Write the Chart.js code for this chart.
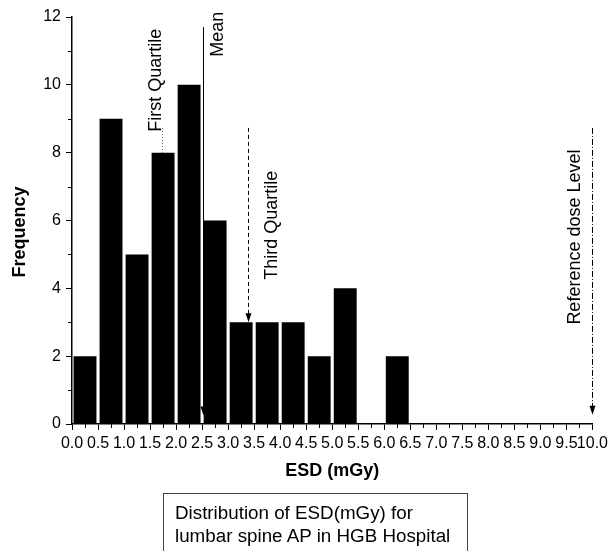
<!DOCTYPE html>
<html><head><meta charset="utf-8">
<script src="https://cdn.jsdelivr.net/npm/chart.js@4/dist/chart.umd.min.js"></script>
<style>
html,body{margin:0;padding:0;background:#fff;overflow:hidden}
#wrap{position:relative;width:612px;height:551px;overflow:hidden;background:#fff}
#c{position:absolute;left:0;top:0}
#caption{position:absolute;left:163px;top:493px;width:305px;height:80px;border:1px solid #444;box-sizing:border-box;font:18.8px "Liberation Sans",Arial,sans-serif;line-height:23px;padding:7px 0 0 11px;color:#000;white-space:nowrap}
</style></head><body>
<div id="wrap"><canvas id="c" width="612" height="551"></canvas>
<div id="caption">Distribution of ESD(mGy) for<br>lumbar spine AP in HGB Hospital</div></div>
<script>
// ---- data ----
const binCenters = [0.25, 0.75, 1.25, 1.75, 2.25, 2.75, 3.25, 3.75, 4.25, 4.75, 5.25, 5.75, 6.25];
const frequencies = [2, 9, 5, 8, 10, 6, 3, 3, 3, 2, 4, 0, 2];
const xTickLabels = ['0.0','0.5','1.0','1.5','2.0','2.5','3.0','3.5','4.0','4.5','5.0','5.5','6.0','6.5','7.0','7.5','8.0','8.5','9.0','9.5','10.0'];
const yTickLabels = ['0','2','4','6','8','10','12'];
const markerNames = ['First Quartile', 'Mean', 'Third Quartile', 'Reference dose Level'];
const markerValues = [1.73, 2.52, 3.38, 10.0];
const markerTops = [8.73, 11.7, 8.73, 8.73];
const markerEnds = [8, 0.25, 3, 0.27];
const xTitle = 'ESD (mGy)';
const yTitle = 'Frequency';

// ---- styles ----
const FONT = '"Liberation Sans", Arial, sans-serif';
const markerStyles = [
  {dash: [1, 2], color: '#555', arrow: false, labelDx: -6, labelStart: 8.62},
  {dash: [], color: '#000', arrow: true, labelDx: 15, labelStart: 10.83},
  {dash: [4, 3], color: '#000', arrow: true, labelDx: 24, labelStart: 4.25},
  {dash: [6, 2, 1, 2], color: '#000', arrow: true, labelDx: -17, labelStart: 2.93}
];

const decor = {
  id: 'decor',
  afterDraw(chart) {
    const ctx = chart.ctx, xs = chart.scales.x, ys = chart.scales.y, ca = chart.chartArea;
    ctx.save();
    // minor ticks
    ctx.strokeStyle = '#000'; ctx.lineWidth = 1;
    ctx.beginPath();
    for (let v = 0.25; v < 10; v += 0.5) {
      const px = Math.round(xs.getPixelForValue(v)) + 0.5;
      ctx.moveTo(px, ca.bottom); ctx.lineTo(px, ca.bottom + 4);
    }
    for (let v = 1; v < 12; v += 2) {
      const py = Math.round(ys.getPixelForValue(v)) + 0.5;
      ctx.moveTo(ca.left, py); ctx.lineTo(ca.left - 4, py);
    }
    ctx.stroke();
    // markers
    markerNames.forEach((name, i) => {
      const st = markerStyles[i];
      const x = Math.round(xs.getPixelForValue(markerValues[i])) + 0.5;
      const yTop = ys.getPixelForValue(markerTops[i]);
      const yEnd = ys.getPixelForValue(markerEnds[i]);
      ctx.strokeStyle = st.color; ctx.fillStyle = st.color; ctx.lineWidth = 1;
      ctx.setLineDash(st.dash);
      ctx.beginPath();
      ctx.moveTo(x, yTop); ctx.lineTo(x, st.arrow ? yEnd - 4 : yEnd);
      ctx.stroke();
      ctx.setLineDash([]);
      if (st.arrow) {
        ctx.beginPath();
        ctx.moveTo(x, yEnd); ctx.lineTo(x - 3, yEnd - 9); ctx.lineTo(x + 3, yEnd - 9);
        ctx.closePath(); ctx.fill();
      }
      ctx.fillStyle = '#000';
      ctx.font = '18px ' + FONT;
      ctx.save();
      ctx.translate(x + st.labelDx, ys.getPixelForValue(st.labelStart));
      ctx.rotate(-Math.PI / 2);
      ctx.textAlign = 'left'; ctx.textBaseline = 'middle';
      ctx.fillText(name, 0, 0);
      ctx.restore();
    });
    // axis titles
    ctx.fillStyle = '#000';
    ctx.font = 'bold 18px ' + FONT;
    ctx.textAlign = 'center'; ctx.textBaseline = 'middle';
    ctx.fillText(xTitle, (ca.left + ca.right) / 2, 471);
    ctx.save();
    ctx.translate(20, 232);
    ctx.rotate(-Math.PI / 2);
    ctx.fillText(yTitle, 0, 0);
    ctx.restore();
    ctx.restore();
  }
};

new Chart(document.getElementById('c'), {
  type: 'bar',
  data: {
    datasets: [{
      data: binCenters.map((x, i) => ({x: x, y: frequencies[i]})),
      backgroundColor: '#000',
      borderWidth: 0,
      barPercentage: 0.88,
      categoryPercentage: 1
    }]
  },
  options: {
    responsive: false,
    animation: false,
    layout: {padding: {top: 17, right: 19, bottom: 67, left: 0}},
    plugins: {legend: {display: false}, tooltip: {enabled: false}},
    scales: {
      x: {
        type: 'linear', min: 0, max: 10, offset: false,
        afterFit(s) { s.height = 60; },
        grid: {offset: false, drawOnChartArea: false, drawTicks: true, tickLength: 6, color: '#000', tickColor: '#000'},
        border: {display: true, color: '#000', width: 1.5},
        ticks: {
          stepSize: 0.5, autoSkip: false, maxRotation: 0, minRotation: 0, padding: 4,
          color: '#000', font: {family: FONT, size: 16},
          callback: (v) => xTickLabels[Math.round(v / 0.5)] ?? ''
        }
      },
      y: {
        min: 0, max: 12,
        afterFit(s) { s.width = 72; },
        grid: {drawOnChartArea: false, drawTicks: true, tickLength: 6, color: '#000', tickColor: '#000'},
        border: {display: true, color: '#000', width: 1.5},
        ticks: {
          stepSize: 2, padding: 5, color: '#000', font: {family: FONT, size: 16},
          callback: (v) => yTickLabels[Math.round(v / 2)] ?? ''
        }
      }
    }
  },
  plugins: [decor]
});
</script>
</body></html>
